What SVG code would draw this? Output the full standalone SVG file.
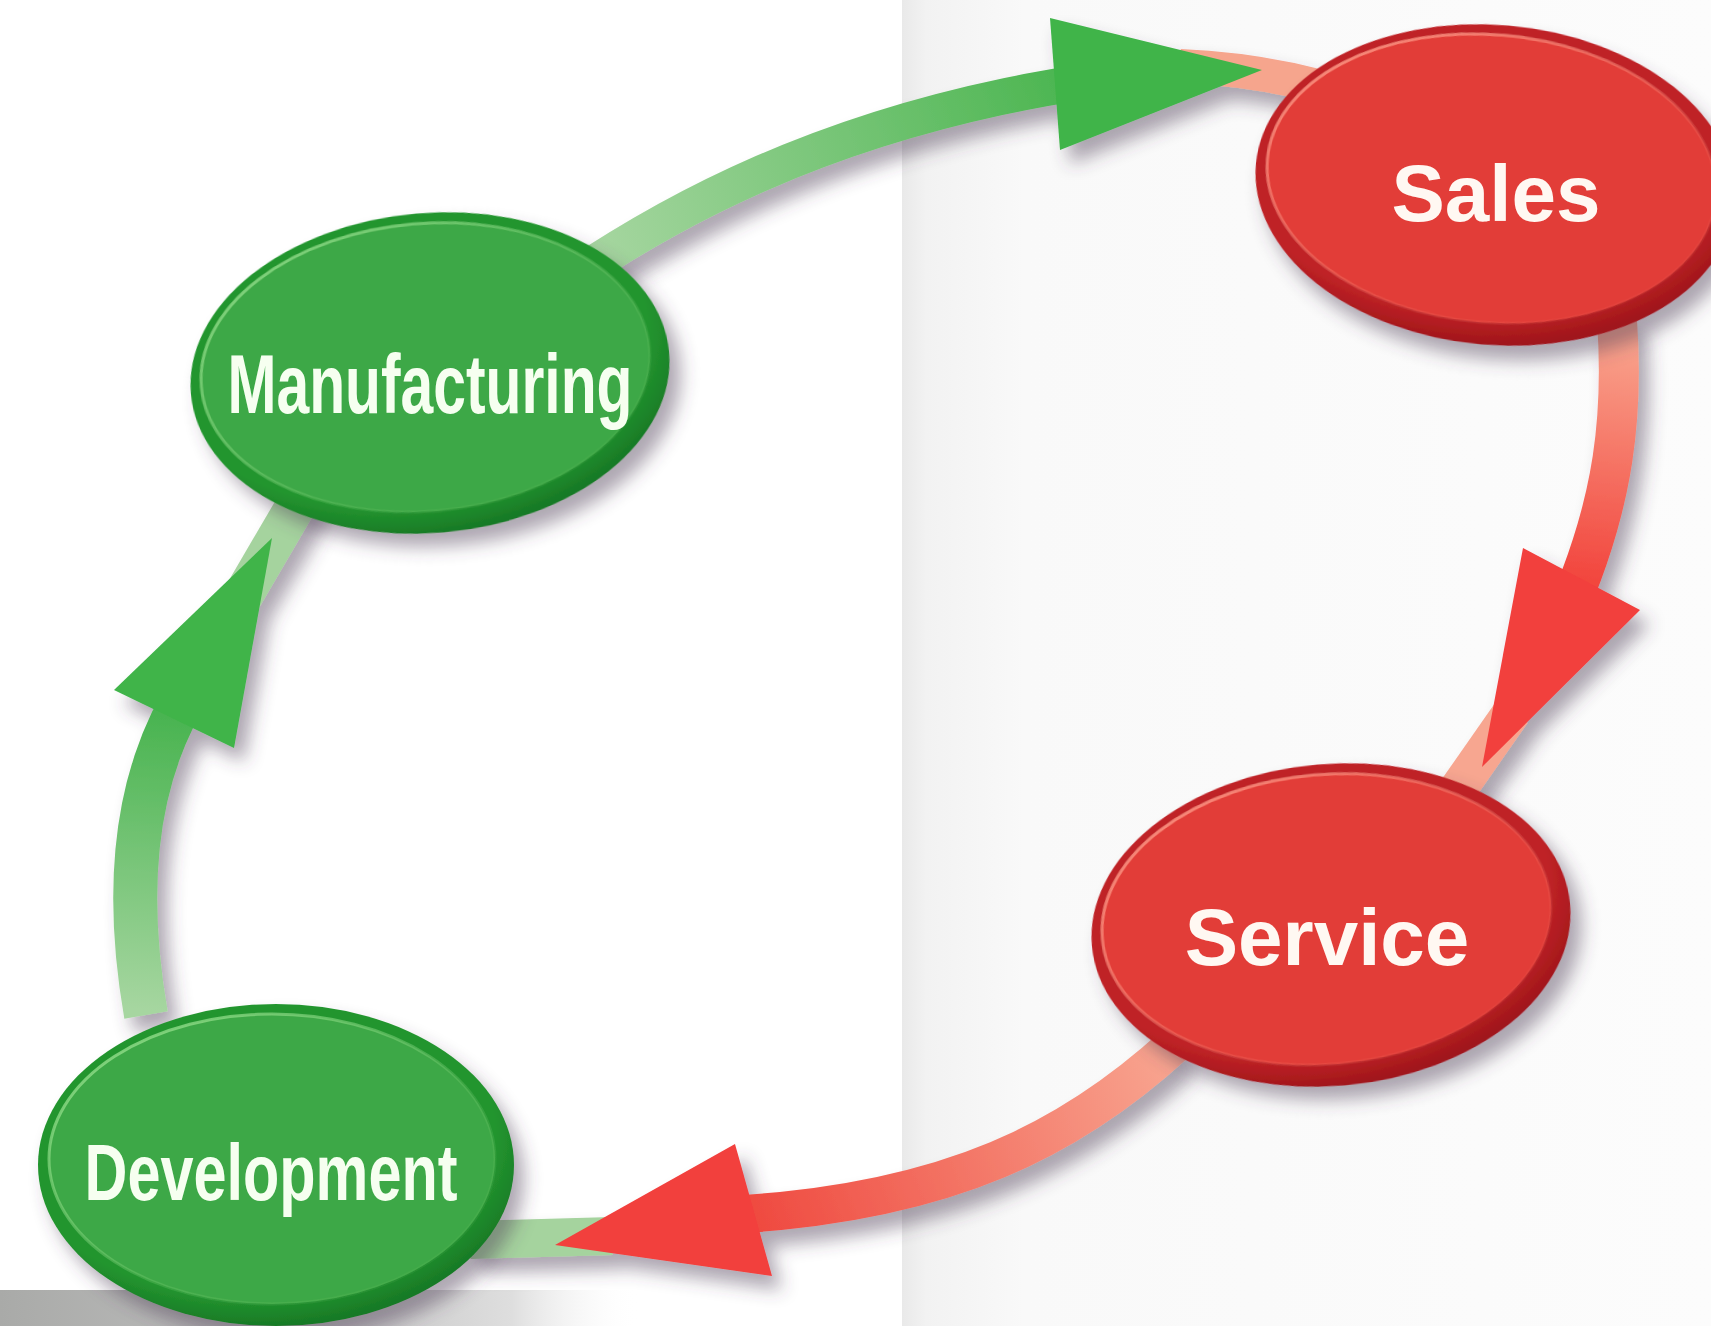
<svg xmlns="http://www.w3.org/2000/svg" width="1711" height="1326" viewBox="0 0 1711 1326">
  <defs>
    <linearGradient id="page" x1="0" y1="0" x2="1" y2="0">
      <stop offset="0" stop-color="#e9e9e9"/>
      <stop offset="0.03" stop-color="#f2f2f2"/>
      <stop offset="0.15" stop-color="#f9f9f9"/>
      <stop offset="1" stop-color="#fcfcfc"/>
    </linearGradient>
    <linearGradient id="bar" x1="0" y1="0" x2="1" y2="0">
      <stop offset="0" stop-color="#a9aaa8"/>
      <stop offset="0.5" stop-color="#c2c2c2"/>
      <stop offset="0.8" stop-color="#dedede"/>
      <stop offset="1" stop-color="#ffffff" stop-opacity="0"/>
    </linearGradient>
    <linearGradient id="gA" gradientUnits="userSpaceOnUse" x1="600" y1="260" x2="1060" y2="84">
      <stop offset="0" stop-color="#a6d6a0"/>
      <stop offset="1" stop-color="#4db652"/>
    </linearGradient>
    <linearGradient id="gB" gradientUnits="userSpaceOnUse" x1="1617" y1="330" x2="1587" y2="580">
      <stop offset="0" stop-color="#f9a68f"/>
      <stop offset="1" stop-color="#f2463e"/>
    </linearGradient>
    <linearGradient id="gC" gradientUnits="userSpaceOnUse" x1="1168" y1="1048" x2="752" y2="1212">
      <stop offset="0" stop-color="#f8a590"/>
      <stop offset="1" stop-color="#ef4a40"/>
    </linearGradient>
    <linearGradient id="gD" gradientUnits="userSpaceOnUse" x1="145" y1="1010" x2="172" y2="718">
      <stop offset="0" stop-color="#a6d6a0"/>
      <stop offset="1" stop-color="#4ab451"/>
    </linearGradient>
    <linearGradient id="hlG" x1="0" y1="0" x2="1" y2="1">
      <stop offset="0" stop-color="#8fdc88" stop-opacity="1"/>
      <stop offset="0.6" stop-color="#8fdc88" stop-opacity="0.2"/>
      <stop offset="1" stop-color="#8fdc88" stop-opacity="0"/>
    </linearGradient>
    <linearGradient id="hlR" x1="0" y1="0" x2="1" y2="1">
      <stop offset="0" stop-color="#ff9a88" stop-opacity="1"/>
      <stop offset="0.6" stop-color="#ff9a88" stop-opacity="0.2"/>
      <stop offset="1" stop-color="#ff9a88" stop-opacity="0"/>
    </linearGradient>
    <radialGradient id="rimGgrad" cx="0.45" cy="0.4" r="0.6">
      <stop offset="0.85" stop-color="#23952f"/>
      <stop offset="1" stop-color="#187a26"/>
    </radialGradient>
    <radialGradient id="rimRgrad" cx="0.45" cy="0.4" r="0.6">
      <stop offset="0.85" stop-color="#bf2226"/>
      <stop offset="1" stop-color="#a0161a"/>
    </radialGradient>
    <filter id="shadow" x="-20%" y="-20%" width="150%" height="150%">
      <feDropShadow dx="10" dy="14" stdDeviation="9" flood-color="#4a3a55" flood-opacity="0.45"/>
    </filter>
  </defs>
  <style>
    .band { fill: none; stroke-linecap: butt; }
    .headG { fill: #3fb44a; }
    .headR { fill: #f23f3d; }
    .rimG { fill: url(#rimGgrad); }
    .mainG { fill: #3ea846; stroke: url(#hlG); stroke-width: 3; }
    .rimR { fill: url(#rimRgrad); }
    .mainR { fill: #e23c37; stroke: url(#hlR); stroke-width: 3; }
    .lbl { font-family: "Liberation Sans", Arial, sans-serif; font-weight: bold; text-anchor: middle; }
    .lblG { fill: #f6fff0; }
    .lblR { fill: #fff8f2; }
  </style>

  <rect x="0" y="0" width="1711" height="1326" fill="#ffffff"/>
  <rect x="902" y="0" width="809" height="1326" fill="url(#page)"/>
  <rect x="0" y="1290" width="640" height="36" fill="url(#bar)"/>

  <g id="connectors" filter="url(#shadow)">
    <path class="band" d="M 1180 66 Q 1270 70 1345 94" stroke="#f6a58d" stroke-width="34"/>
    <path class="band" d="M 1512 712 L 1440 815" stroke="#f7a690" stroke-width="38"/>
    <path class="band" d="M 612 1236 L 470 1240" stroke="#a5d39e" stroke-width="38"/>
    <path class="band" d="M 230 618 L 306 488" stroke="#a5d39e" stroke-width="40"/>
    <path class="band" d="M 596 262 C 700 195, 850 120, 1070 84" stroke="url(#gA)" stroke-width="36"/>
    <polygon class="headG" points="1050,18 1060,150 1262,70"/>
    <path class="band" d="M 1617 320 C 1624 420, 1612 500, 1575 592" stroke="url(#gB)" stroke-width="40"/>
    <polygon class="headR" points="1523,548 1640,610 1482,767"/>
    <path class="band" d="M 1175 1044 C 1070 1140, 950 1200, 745 1214" stroke="url(#gC)" stroke-width="38"/>
    <polygon class="headR" points="735,1144 772,1276 555,1245"/>
    <path class="band" d="M 146 1015 C 126 900, 132 790, 182 702" stroke="url(#gD)" stroke-width="44"/>
    <polygon class="headG" points="114,690 234,748 272,538"/>
  </g>

  <g id="node-manufacturing">
    <g transform="translate(430,373) rotate(-5)" filter="url(#shadow)">
      <ellipse class="rimG" cx="0" cy="0" rx="240" ry="160"/>
      <ellipse class="mainG" cx="-4" cy="-6" rx="225" ry="144"/>
    </g>
    <text class="lbl lblG" x="430" y="413" font-size="84" textLength="405" lengthAdjust="spacingAndGlyphs">Manufacturing</text>
  </g>

  <g id="node-sales">
    <g transform="translate(1495,185) rotate(5)" filter="url(#shadow)">
      <ellipse class="rimR" cx="0" cy="0" rx="240" ry="160"/>
      <ellipse class="mainR" cx="-4" cy="-6" rx="225" ry="144"/>
    </g>
    <text class="lbl lblR" x="1496" y="221" font-size="80">Sales</text>
  </g>

  <g id="node-service">
    <g transform="translate(1331,925) rotate(-5)" filter="url(#shadow)">
      <ellipse class="rimR" cx="0" cy="0" rx="240" ry="161"/>
      <ellipse class="mainR" cx="-4" cy="-6" rx="225" ry="145"/>
    </g>
    <text class="lbl lblR" x="1327" y="965" font-size="80">Service</text>
  </g>

  <g id="node-development">
    <g transform="translate(276,1165)" filter="url(#shadow)">
      <ellipse class="rimG" cx="0" cy="0" rx="238" ry="161"/>
      <ellipse class="mainG" cx="-4" cy="-6" rx="223" ry="145"/>
    </g>
    <text class="lbl lblG" x="271" y="1200" font-size="80" textLength="373" lengthAdjust="spacingAndGlyphs">Development</text>
  </g>
</svg>
